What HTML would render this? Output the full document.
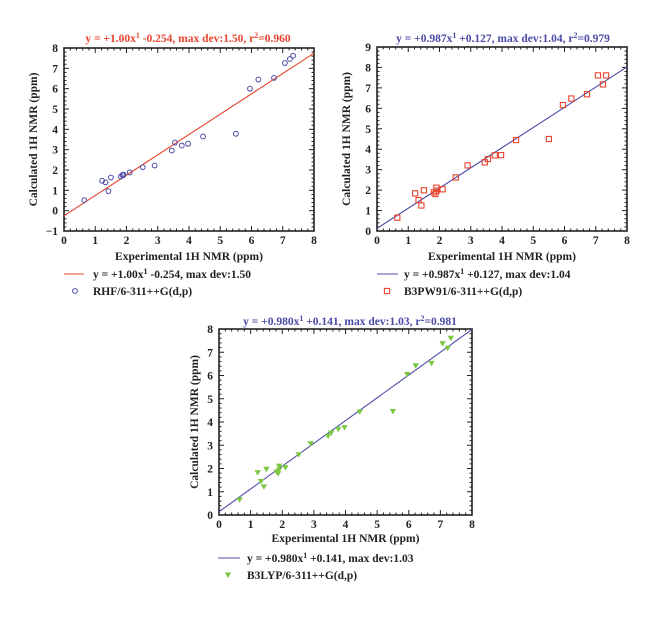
<!DOCTYPE html>
<html><head><meta charset="utf-8"><style>
body{margin:0;background:#fff;width:660px;height:615px;overflow:hidden}
svg text{font-family:"Liberation Serif",serif;font-weight:bold}
</style></head><body>
<svg id="s" width="660" height="615" viewBox="0 0 660 615"></svg>
<script>
const xVals=[0.65,1.22,1.33,1.42,1.5,1.82,1.87,1.9,1.9,2.1,2.52,2.9,3.45,3.55,3.77,3.97,4.45,5.5,5.95,6.22,6.72,7.07,7.23,7.33];
const rhfVals=[0.52,1.47,1.39,0.96,1.63,1.68,1.75,1.75,1.77,1.88,2.14,2.22,2.96,3.35,3.2,3.29,3.65,3.78,6.0,6.45,6.53,7.26,7.46,7.62];
const b3pwVals=[0.65,1.84,1.51,1.25,1.99,1.89,1.81,2.12,1.97,2.04,2.62,3.21,3.36,3.52,3.7,3.71,4.45,4.5,6.16,6.48,6.69,7.61,7.17,7.61];
const b3lypVals=[0.65,1.82,1.44,1.21,1.97,1.85,1.78,2.1,1.94,2.04,2.59,3.07,3.39,3.53,3.69,3.76,4.43,4.45,6.05,6.42,6.52,7.37,7.17,7.6];
const fitSlopes=[1.00,0.987,0.980];
const fitIntercepts=[-0.254,0.127,0.141];
const xTicks=[0,1,2,3,4,5,6,7,8];
const yTicks1=[-1,0,1,2,3,4,5,6,7,8];
const yTicks2=[0,1,2,3,4,5,6,7,8,9];
const yTicks3=[0,1,2,3,4,5,6,7,8];
const titles=["y = +1.00x","y = +0.987x","y = +0.980x"];
const titleTails=[" -0.254, max dev:1.50, r"," +0.127, max dev:1.04, r"," +0.141, max dev:1.03, r"];
const r2=["=0.960","=0.979","=0.981"];
const legendFits=[" -0.254, max dev:1.50"," +0.127, max dev:1.04"," +0.141, max dev:1.03"];
const seriesNames=["RHF/6-311++G(d,p)","B3PW91/6-311++G(d,p)","B3LYP/6-311++G(d,p)"];
const NS="http://www.w3.org/2000/svg";
const S=document.getElementById('s');
function mk(tag,attrs,parent,txt){const e=document.createElementNS(NS,tag);for(const k in attrs)e.setAttribute(k,attrs[k]);if(txt!==undefined)e.textContent=txt;(parent||S).appendChild(e);return e;}
const RED="#e8452e",BLUE="#4b4ba6",GREEN="#7cc843";
const charts=[
 {L:64,R:314,T:48,B:231,ymin:-1,ymax:8,yt:yTicks1,ys:rhfVals,lc:RED,tc:RED,mk:"circle",mc:BLUE,tx:188,ty:42,ylx:37,xly:260,lg:{x1:64,x2:84,tx:93,mx:75,y1:278,y2:295}},
 {L:377,R:627,T:47,B:231,ymin:0,ymax:9,yt:yTicks2,ys:b3pwVals,lc:BLUE,tc:BLUE,mk:"square",mc:RED,tx:503,ty:42,ylx:350,xly:260,lg:{x1:377,x2:398,tx:404,mx:387,y1:278,y2:295}},
 {L:219,R:472,T:329,B:515,ymin:0,ymax:8,yt:yTicks3,ys:b3lypVals,lc:BLUE,tc:BLUE,mk:"tri",mc:GREEN,tx:350,ty:325,ylx:198,xly:542,lg:{x1:218,x2:240,tx:247,mx:228,y1:562,y2:579}}
];
charts.forEach((c,i)=>{
 const g=mk('g',{});
 
 
 const X=v=>c.L+(v-0)/8*(c.R-c.L);
 const Y=v=>c.B-(v-c.ymin)/(c.ymax-c.ymin)*(c.B-c.T);
 const t=mk('text',{x:c.tx,y:c.ty,'text-anchor':'middle','font-size':'11.5',fill:c.tc},g);
 
 
 mk('tspan',{},t,titles[i]);mk('tspan',{dy:-4,'font-size':'8'},t,'1');mk('tspan',{dy:4},t,titleTails[i]);mk('tspan',{dy:-4,'font-size':'8'},t,'2');mk('tspan',{dy:4},t,r2[i]);
 // ticks
 for(let u=0;u<8;u+=0.2){const x=X(u);const maj=Math.abs(u-Math.round(u))<1e-6;const l=maj?5:2.5;
  mk('line',{x1:x,x2:x,y1:c.B,y2:c.B-l,stroke:'#222','stroke-width':1},g);mk('line',{x1:x,x2:x,y1:c.T,y2:c.T+l,stroke:'#222','stroke-width':1},g);}
 for(let u=c.ymin;u<c.ymax;u+=0.2){const y=Y(u);const maj=Math.abs(u-Math.round(u))<1e-6;const l=maj?5:2.5;
  mk('line',{y1:y,y2:y,x1:c.L,x2:c.L+l,stroke:'#222','stroke-width':1},g);mk('line',{y1:y,y2:y,x1:c.R,x2:c.R-l,stroke:'#222','stroke-width':1},g);}
 const fr=mk('rect',{x:c.L,y:c.T,width:c.R-c.L,height:c.B-c.T,fill:'none',stroke:'#222','stroke-width':1.6},g);
 
 
 xTicks.forEach(v=>{const e=mk('text',{x:X(v),y:c.B+13,'text-anchor':'middle','font-size':'11.5',fill:'#222'},g,String(v));
  
  });
 c.yt.forEach(v=>{const e=mk('text',{x:c.L-6,y:Y(v)+4,'text-anchor':'end','font-size':'11.5',fill:'#222'},g,v<0?'\u2212'+(-v):String(v));
  
  });
 const xl=mk('text',{x:(c.L+c.R)/2,y:c.xly,'text-anchor':'middle','font-size':'11.5',fill:'#222'},g,'Experimental 1H NMR (ppm)');
 
 
 const yl=mk('text',{x:c.ylx,y:(c.T+c.B)/2,'text-anchor':'middle','font-size':'11.5',fill:'#222',transform:`rotate(-90 ${c.ylx} ${(c.T+c.B)/2})`},g,'Calculated 1H NMR (ppm)');
 
 
 // fit line clipped
 const a=fitSlopes[i],b=fitIntercepts[i];
 let x0=0,y0=b; if(y0<c.ymin){x0=(c.ymin-b)/a;y0=c.ymin;}
 let x1=8,y1=a*8+b; if(y1>c.ymax){x1=(c.ymax-b)/a;y1=c.ymax;}
 const fl=mk('line',{x1:X(x0),y1:Y(y0),x2:X(x1),y2:Y(y1),stroke:c.lc,'stroke-width':1.1},g);
 
 
 xVals.forEach((xv,k)=>{const px=X(xv),py=Y(c.ys[k]);let m;
  if(c.mk==='circle')m=mk('circle',{cx:px,cy:py,r:2.4,fill:'none',stroke:c.mc,'stroke-width':1},g);
  else if(c.mk==='square')m=mk('rect',{x:px-2.6,y:py-2.6,width:5.2,height:5.2,fill:'none',stroke:c.mc,'stroke-width':1.1},g);
  else m=mk('path',{d:`M${px-3.2},${py-2.5}L${px+3.2},${py-2.5}L${px},${py+3}Z`,fill:c.mc},g);
  
  });
 // legend
 const lg=c.lg;
 const ll=mk('line',{x1:lg.x1,x2:lg.x2,y1:lg.y1-4,y2:lg.y1-4,stroke:c.lc,'stroke-width':1.1},g);
 
 
 const lt=mk('text',{x:lg.tx,y:lg.y1,'font-size':'11.5',fill:'#222'},g);
 
 
 mk('tspan',{},lt,titles[i]);mk('tspan',{dy:-4,'font-size':'8'},lt,'1');mk('tspan',{dy:4},lt,legendFits[i]);
 let lm;const mx=lg.mx,my=lg.y2-4;
 if(c.mk==='circle')lm=mk('circle',{cx:mx,cy:my,r:2.4,fill:'none',stroke:c.mc,'stroke-width':1},g);
 else if(c.mk==='square')lm=mk('rect',{x:mx-2.6,y:my-2.6,width:5.2,height:5.2,fill:'none',stroke:c.mc,'stroke-width':1.1},g);
 else lm=mk('path',{d:`M${mx-3.2},${my-2.5}L${mx+3.2},${my-2.5}L${mx},${my+3}Z`,fill:c.mc},g);
 
 
 const st=mk('text',{x:lg.tx,y:lg.y2,'font-size':'11.5',fill:'#222'},g,seriesNames[i]);
 
 
});
</script>
</body></html>
